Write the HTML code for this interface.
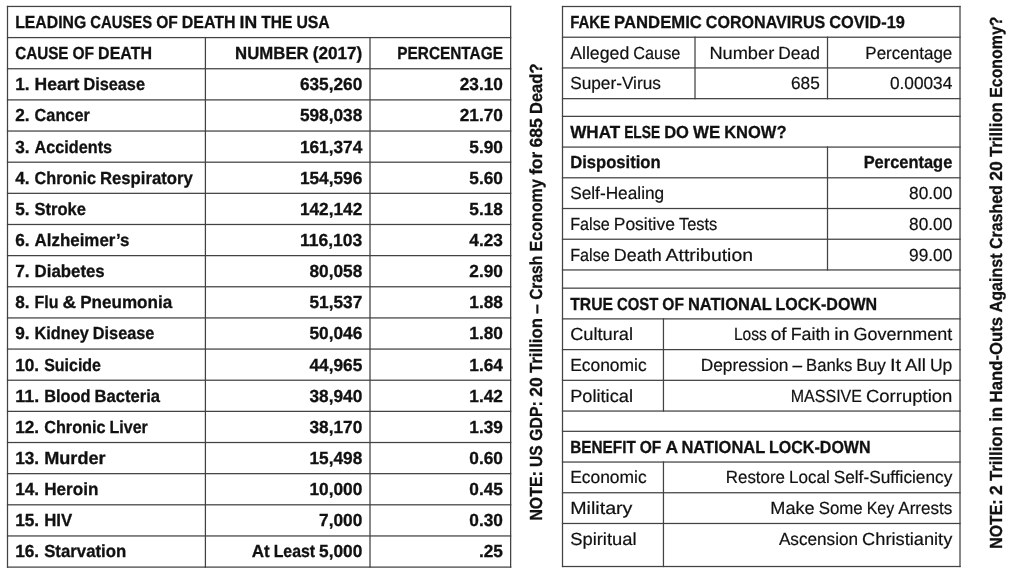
<!DOCTYPE html>
<html lang="en">
<head>
<meta charset="utf-8">
<title>Leading causes of death table</title>
<style>
html,body{margin:0;padding:0;background:#fff;}
body{width:1024px;height:576px;overflow:hidden;}
svg{display:block;}
text{font-family:"Liberation Sans",Arial,sans-serif;font-size:17.5px;fill:#111;stroke:#111;text-rendering:geometricPrecision;}
.b{font-weight:bold;stroke-width:0.3px;}
.r{font-weight:normal;stroke-width:0.2px;}
.lines rect{fill:#424242;}
</style>
</head>
<body>
<svg width="1024" height="576" viewBox="0 0 1024 576">
<rect width="1024" height="576" fill="#fff"/>
<g class="lines">
<rect x="6.88" y="5.83" width="504.40" height="1.25"/>
<rect x="6.88" y="36.97" width="504.40" height="1.25"/>
<rect x="6.88" y="68.12" width="504.40" height="1.25"/>
<rect x="6.88" y="99.27" width="504.40" height="1.25"/>
<rect x="6.88" y="130.41" width="504.40" height="1.25"/>
<rect x="6.88" y="161.56" width="504.40" height="1.25"/>
<rect x="6.88" y="192.71" width="504.40" height="1.25"/>
<rect x="6.88" y="223.86" width="504.40" height="1.25"/>
<rect x="6.88" y="255.00" width="504.40" height="1.25"/>
<rect x="6.88" y="286.15" width="504.40" height="1.25"/>
<rect x="6.88" y="317.30" width="504.40" height="1.25"/>
<rect x="6.88" y="348.44" width="504.40" height="1.25"/>
<rect x="6.88" y="379.59" width="504.40" height="1.25"/>
<rect x="6.88" y="410.74" width="504.40" height="1.25"/>
<rect x="6.88" y="441.89" width="504.40" height="1.25"/>
<rect x="6.88" y="473.03" width="504.40" height="1.25"/>
<rect x="6.88" y="504.18" width="504.40" height="1.25"/>
<rect x="6.88" y="535.33" width="504.40" height="1.25"/>
<rect x="6.88" y="566.48" width="504.40" height="1.25"/>
<rect x="6.88" y="5.83" width="1.25" height="561.90"/>
<rect x="510.02" y="5.83" width="1.25" height="561.90"/>
<rect x="204.78" y="36.97" width="1.25" height="530.75"/>
<rect x="369.38" y="36.97" width="1.25" height="530.75"/>
<rect x="561.88" y="5.88" width="398.75" height="1.25"/>
<rect x="561.88" y="36.59" width="398.75" height="1.25"/>
<rect x="561.88" y="67.31" width="398.75" height="1.25"/>
<rect x="561.88" y="98.03" width="398.75" height="1.25"/>
<rect x="561.88" y="115.73" width="398.75" height="1.25"/>
<rect x="561.88" y="146.45" width="398.75" height="1.25"/>
<rect x="561.88" y="177.17" width="398.75" height="1.25"/>
<rect x="561.88" y="207.89" width="398.75" height="1.25"/>
<rect x="561.88" y="238.61" width="398.75" height="1.25"/>
<rect x="561.88" y="269.33" width="398.75" height="1.25"/>
<rect x="561.88" y="287.53" width="398.75" height="1.25"/>
<rect x="561.88" y="318.25" width="398.75" height="1.25"/>
<rect x="561.88" y="348.98" width="398.75" height="1.25"/>
<rect x="561.88" y="379.70" width="398.75" height="1.25"/>
<rect x="561.88" y="410.42" width="398.75" height="1.25"/>
<rect x="561.88" y="430.69" width="398.75" height="1.25"/>
<rect x="561.88" y="461.41" width="398.75" height="1.25"/>
<rect x="561.88" y="492.13" width="398.75" height="1.25"/>
<rect x="561.88" y="522.85" width="398.75" height="1.25"/>
<rect x="561.88" y="565.88" width="398.75" height="1.25"/>
<rect x="561.88" y="5.88" width="1.25" height="561.25"/>
<rect x="959.38" y="5.88" width="1.25" height="561.25"/>
<rect x="694.38" y="36.59" width="1.25" height="62.69"/>
<rect x="826.88" y="36.59" width="1.25" height="62.69"/>
<rect x="826.88" y="146.45" width="1.25" height="124.13"/>
<rect x="662.83" y="318.25" width="1.25" height="93.41"/>
<rect x="662.83" y="461.41" width="1.25" height="105.72"/>
</g>
<g class="labels">
<text class="b" y="27.95"><tspan x="15.18" textLength="71.01" lengthAdjust="spacingAndGlyphs">LEADING</tspan> <tspan x="90.19" textLength="61.99" lengthAdjust="spacingAndGlyphs">CAUSES</tspan> <tspan x="156.18" textLength="21.60" lengthAdjust="spacingAndGlyphs">OF</tspan> <tspan x="181.78" textLength="53.81" lengthAdjust="spacingAndGlyphs">DEATH</tspan> <tspan x="239.59" textLength="17.60" lengthAdjust="spacingAndGlyphs">IN</tspan> <tspan x="261.19" textLength="31.20" lengthAdjust="spacingAndGlyphs">THE</tspan> <tspan x="296.39" textLength="33.41" lengthAdjust="spacingAndGlyphs">USA</tspan></text>
<text class="b" y="59.10"><tspan x="15.18" textLength="53.34" lengthAdjust="spacingAndGlyphs">CAUSE</tspan> <tspan x="72.52" textLength="21.60" lengthAdjust="spacingAndGlyphs">OF</tspan> <tspan x="98.12" textLength="53.81" lengthAdjust="spacingAndGlyphs">DEATH</tspan></text>
<text class="b" y="59.10"><tspan x="235.12" textLength="73.60" lengthAdjust="spacingAndGlyphs">NUMBER</tspan> <tspan x="312.72" textLength="49.60" lengthAdjust="spacingAndGlyphs">(2017)</tspan></text>
<text class="b" y="59.10"><tspan x="397.28" textLength="105.69" lengthAdjust="spacingAndGlyphs">PERCENTAGE</tspan></text>
<text class="b" y="90.24"><tspan x="15.18" textLength="14.40" lengthAdjust="spacingAndGlyphs">1.</tspan> <tspan x="34.58" textLength="44.80" lengthAdjust="spacingAndGlyphs">Heart</tspan> <tspan x="83.38" textLength="61.60" lengthAdjust="spacingAndGlyphs">Disease</tspan></text>
<text class="b" y="90.24"><tspan x="299.92" textLength="62.40" lengthAdjust="spacingAndGlyphs">635,260</tspan></text>
<text class="b" y="90.24"><tspan x="459.77" textLength="43.20" lengthAdjust="spacingAndGlyphs">23.10</tspan></text>
<text class="b" y="121.39"><tspan x="15.18" textLength="14.40" lengthAdjust="spacingAndGlyphs">2.</tspan> <tspan x="34.58" textLength="55.20" lengthAdjust="spacingAndGlyphs">Cancer</tspan></text>
<text class="b" y="121.39"><tspan x="299.92" textLength="62.40" lengthAdjust="spacingAndGlyphs">598,038</tspan></text>
<text class="b" y="121.39"><tspan x="459.77" textLength="43.20" lengthAdjust="spacingAndGlyphs">21.70</tspan></text>
<text class="b" y="152.54"><tspan x="15.18" textLength="14.40" lengthAdjust="spacingAndGlyphs">3.</tspan> <tspan x="34.58" textLength="77.46" lengthAdjust="spacingAndGlyphs">Accidents</tspan></text>
<text class="b" y="152.54"><tspan x="299.92" textLength="62.40" lengthAdjust="spacingAndGlyphs">161,374</tspan></text>
<text class="b" y="152.54"><tspan x="469.37" textLength="33.60" lengthAdjust="spacingAndGlyphs">5.90</tspan></text>
<text class="b" y="183.69"><tspan x="15.18" textLength="14.40" lengthAdjust="spacingAndGlyphs">4.</tspan> <tspan x="34.58" textLength="61.41" lengthAdjust="spacingAndGlyphs">Chronic</tspan> <tspan x="99.99" textLength="92.81" lengthAdjust="spacingAndGlyphs">Respiratory</tspan></text>
<text class="b" y="183.69"><tspan x="299.92" textLength="62.40" lengthAdjust="spacingAndGlyphs">154,596</tspan></text>
<text class="b" y="183.69"><tspan x="469.37" textLength="33.60" lengthAdjust="spacingAndGlyphs">5.60</tspan></text>
<text class="b" y="214.83"><tspan x="15.18" textLength="14.40" lengthAdjust="spacingAndGlyphs">5.</tspan> <tspan x="34.58" textLength="51.39" lengthAdjust="spacingAndGlyphs">Stroke</tspan></text>
<text class="b" y="214.83"><tspan x="299.92" textLength="62.40" lengthAdjust="spacingAndGlyphs">142,142</tspan></text>
<text class="b" y="214.83"><tspan x="469.37" textLength="33.60" lengthAdjust="spacingAndGlyphs">5.18</tspan></text>
<text class="b" y="245.98"><tspan x="15.18" textLength="14.40" lengthAdjust="spacingAndGlyphs">6.</tspan> <tspan x="34.58" textLength="94.90" lengthAdjust="spacingAndGlyphs">Alzheimer’s</tspan></text>
<text class="b" y="245.98"><tspan x="299.92" textLength="62.40" lengthAdjust="spacingAndGlyphs">116,103</tspan></text>
<text class="b" y="245.98"><tspan x="469.37" textLength="33.60" lengthAdjust="spacingAndGlyphs">4.23</tspan></text>
<text class="b" y="277.13"><tspan x="15.18" textLength="14.40" lengthAdjust="spacingAndGlyphs">7.</tspan> <tspan x="34.58" textLength="70.11" lengthAdjust="spacingAndGlyphs">Diabetes</tspan></text>
<text class="b" y="277.13"><tspan x="309.52" textLength="52.80" lengthAdjust="spacingAndGlyphs">80,058</tspan></text>
<text class="b" y="277.13"><tspan x="469.37" textLength="33.60" lengthAdjust="spacingAndGlyphs">2.90</tspan></text>
<text class="b" y="308.27"><tspan x="15.18" textLength="14.40" lengthAdjust="spacingAndGlyphs">8.</tspan> <tspan x="34.58" textLength="24.00" lengthAdjust="spacingAndGlyphs">Flu</tspan> <tspan x="62.58" textLength="13.60" lengthAdjust="spacingAndGlyphs">&amp;</tspan> <tspan x="80.18" textLength="92.00" lengthAdjust="spacingAndGlyphs">Pneumonia</tspan></text>
<text class="b" y="308.27"><tspan x="309.52" textLength="52.80" lengthAdjust="spacingAndGlyphs">51,537</tspan></text>
<text class="b" y="308.27"><tspan x="469.37" textLength="33.60" lengthAdjust="spacingAndGlyphs">1.88</tspan></text>
<text class="b" y="339.42"><tspan x="15.18" textLength="14.40" lengthAdjust="spacingAndGlyphs">9.</tspan> <tspan x="34.58" textLength="54.26" lengthAdjust="spacingAndGlyphs">Kidney</tspan> <tspan x="92.84" textLength="61.60" lengthAdjust="spacingAndGlyphs">Disease</tspan></text>
<text class="b" y="339.42"><tspan x="309.52" textLength="52.80" lengthAdjust="spacingAndGlyphs">50,046</tspan></text>
<text class="b" y="339.42"><tspan x="469.37" textLength="33.60" lengthAdjust="spacingAndGlyphs">1.80</tspan></text>
<text class="b" y="370.57"><tspan x="15.18" textLength="24.00" lengthAdjust="spacingAndGlyphs">10.</tspan> <tspan x="44.18" textLength="56.80" lengthAdjust="spacingAndGlyphs">Suicide</tspan></text>
<text class="b" y="370.57"><tspan x="309.52" textLength="52.80" lengthAdjust="spacingAndGlyphs">44,965</tspan></text>
<text class="b" y="370.57"><tspan x="469.37" textLength="33.60" lengthAdjust="spacingAndGlyphs">1.64</tspan></text>
<text class="b" y="401.72"><tspan x="15.18" textLength="24.00" lengthAdjust="spacingAndGlyphs">11.</tspan> <tspan x="44.18" textLength="46.40" lengthAdjust="spacingAndGlyphs">Blood</tspan> <tspan x="94.58" textLength="65.41" lengthAdjust="spacingAndGlyphs">Bacteria</tspan></text>
<text class="b" y="401.72"><tspan x="309.52" textLength="52.80" lengthAdjust="spacingAndGlyphs">38,940</tspan></text>
<text class="b" y="401.72"><tspan x="469.37" textLength="33.60" lengthAdjust="spacingAndGlyphs">1.42</tspan></text>
<text class="b" y="432.86"><tspan x="15.18" textLength="24.00" lengthAdjust="spacingAndGlyphs">12.</tspan> <tspan x="44.18" textLength="61.41" lengthAdjust="spacingAndGlyphs">Chronic</tspan> <tspan x="109.59" textLength="38.26" lengthAdjust="spacingAndGlyphs">Liver</tspan></text>
<text class="b" y="432.86"><tspan x="309.52" textLength="52.80" lengthAdjust="spacingAndGlyphs">38,170</tspan></text>
<text class="b" y="432.86"><tspan x="469.37" textLength="33.60" lengthAdjust="spacingAndGlyphs">1.39</tspan></text>
<text class="b" y="464.01"><tspan x="15.18" textLength="24.00" lengthAdjust="spacingAndGlyphs">13.</tspan> <tspan x="44.18" textLength="61.41" lengthAdjust="spacingAndGlyphs">Murder</tspan></text>
<text class="b" y="464.01"><tspan x="309.52" textLength="52.80" lengthAdjust="spacingAndGlyphs">15,498</tspan></text>
<text class="b" y="464.01"><tspan x="469.37" textLength="33.60" lengthAdjust="spacingAndGlyphs">0.60</tspan></text>
<text class="b" y="495.16"><tspan x="15.18" textLength="24.00" lengthAdjust="spacingAndGlyphs">14.</tspan> <tspan x="44.18" textLength="54.21" lengthAdjust="spacingAndGlyphs">Heroin</tspan></text>
<text class="b" y="495.16"><tspan x="309.52" textLength="52.80" lengthAdjust="spacingAndGlyphs">10,000</tspan></text>
<text class="b" y="495.16"><tspan x="469.37" textLength="33.60" lengthAdjust="spacingAndGlyphs">0.45</tspan></text>
<text class="b" y="526.31"><tspan x="15.18" textLength="24.00" lengthAdjust="spacingAndGlyphs">15.</tspan> <tspan x="44.18" textLength="28.00" lengthAdjust="spacingAndGlyphs">HIV</tspan></text>
<text class="b" y="526.31"><tspan x="319.12" textLength="43.20" lengthAdjust="spacingAndGlyphs">7,000</tspan></text>
<text class="b" y="526.31"><tspan x="469.37" textLength="33.60" lengthAdjust="spacingAndGlyphs">0.30</tspan></text>
<text class="b" y="557.45"><tspan x="15.18" textLength="24.00" lengthAdjust="spacingAndGlyphs">16.</tspan> <tspan x="44.18" textLength="82.02" lengthAdjust="spacingAndGlyphs">Starvation</tspan></text>
<text class="b" y="557.45"><tspan x="251.77" textLength="17.93" lengthAdjust="spacingAndGlyphs">At</tspan> <tspan x="273.69" textLength="41.43" lengthAdjust="spacingAndGlyphs">Least</tspan> <tspan x="319.12" textLength="43.20" lengthAdjust="spacingAndGlyphs">5,000</tspan></text>
<text class="b" y="557.45"><tspan x="478.97" textLength="24.00" lengthAdjust="spacingAndGlyphs">.25</tspan></text>
<text class="b" y="27.85"><tspan x="570.18" textLength="39.93" lengthAdjust="spacingAndGlyphs">FAKE</tspan> <tspan x="614.11" textLength="87.76" lengthAdjust="spacingAndGlyphs">PANDEMIC</tspan> <tspan x="705.87" textLength="119.39" lengthAdjust="spacingAndGlyphs">CORONAVIRUS</tspan> <tspan x="829.26" textLength="75.62" lengthAdjust="spacingAndGlyphs">COVID-19</tspan></text>
<text class="r" y="58.57"><tspan x="570.18" textLength="59.07" lengthAdjust="spacingAndGlyphs">Alleged</tspan> <tspan x="633.25" textLength="47.20" lengthAdjust="spacingAndGlyphs">Cause</tspan></text>
<text class="r" y="58.57"><tspan x="709.42" textLength="64.80" lengthAdjust="spacingAndGlyphs">Number</tspan> <tspan x="778.22" textLength="41.60" lengthAdjust="spacingAndGlyphs">Dead</tspan></text>
<text class="r" y="58.57"><tspan x="865.31" textLength="87.01" lengthAdjust="spacingAndGlyphs">Percentage</tspan></text>
<text class="r" y="89.29"><tspan x="570.18" textLength="90.75" lengthAdjust="spacingAndGlyphs">Super-Virus</tspan></text>
<text class="r" y="89.29"><tspan x="791.02" textLength="28.80" lengthAdjust="spacingAndGlyphs">685</tspan></text>
<text class="r" y="89.29"><tspan x="889.92" textLength="62.40" lengthAdjust="spacingAndGlyphs">0.00034</tspan></text>
<text class="b" y="137.71"><tspan x="570.18" textLength="50.00" lengthAdjust="spacingAndGlyphs">WHAT</tspan> <tspan x="624.18" textLength="36.00" lengthAdjust="spacingAndGlyphs">ELSE</tspan> <tspan x="664.18" textLength="24.80" lengthAdjust="spacingAndGlyphs">DO</tspan> <tspan x="692.98" textLength="27.20" lengthAdjust="spacingAndGlyphs">WE</tspan> <tspan x="724.18" textLength="62.39" lengthAdjust="spacingAndGlyphs">KNOW?</tspan></text>
<text class="b" y="168.43"><tspan x="570.18" textLength="90.40" lengthAdjust="spacingAndGlyphs">Disposition</tspan></text>
<text class="b" y="168.43"><tspan x="863.64" textLength="88.68" lengthAdjust="spacingAndGlyphs">Percentage</tspan></text>
<text class="r" y="199.15"><tspan x="570.18" textLength="93.99" lengthAdjust="spacingAndGlyphs">Self-Healing</tspan></text>
<text class="r" y="199.15"><tspan x="909.12" textLength="43.20" lengthAdjust="spacingAndGlyphs">80.00</tspan></text>
<text class="r" y="229.87"><tspan x="570.18" textLength="39.59" lengthAdjust="spacingAndGlyphs">False</tspan> <tspan x="613.77" textLength="61.14" lengthAdjust="spacingAndGlyphs">Positive</tspan> <tspan x="678.91" textLength="38.46" lengthAdjust="spacingAndGlyphs">Tests</tspan></text>
<text class="r" y="229.87"><tspan x="909.12" textLength="43.20" lengthAdjust="spacingAndGlyphs">80.00</tspan></text>
<text class="r" y="260.59"><tspan x="570.18" textLength="39.59" lengthAdjust="spacingAndGlyphs">False</tspan> <tspan x="613.77" textLength="47.86" lengthAdjust="spacingAndGlyphs">Death</tspan> <tspan x="665.62" textLength="87.39" lengthAdjust="spacingAndGlyphs">Attribution</tspan></text>
<text class="r" y="260.59"><tspan x="909.12" textLength="43.20" lengthAdjust="spacingAndGlyphs">99.00</tspan></text>
<text class="b" y="309.51"><tspan x="570.18" textLength="42.84" lengthAdjust="spacingAndGlyphs">TRUE</tspan> <tspan x="617.02" textLength="41.34" lengthAdjust="spacingAndGlyphs">COST</tspan> <tspan x="662.36" textLength="21.60" lengthAdjust="spacingAndGlyphs">OF</tspan> <tspan x="687.96" textLength="83.60" lengthAdjust="spacingAndGlyphs">NATIONAL</tspan> <tspan x="775.56" textLength="101.64" lengthAdjust="spacingAndGlyphs">LOCK-DOWN</tspan></text>
<text class="r" y="340.23"><tspan x="570.18" textLength="62.89" lengthAdjust="spacingAndGlyphs">Cultural</tspan></text>
<text class="r" y="340.23"><tspan x="733.89" textLength="32.80" lengthAdjust="spacingAndGlyphs">Loss</tspan> <tspan x="770.69" textLength="16.00" lengthAdjust="spacingAndGlyphs">of</tspan> <tspan x="790.69" textLength="39.59" lengthAdjust="spacingAndGlyphs">Faith</tspan> <tspan x="834.28" textLength="15.20" lengthAdjust="spacingAndGlyphs">in</tspan> <tspan x="853.48" textLength="98.84" lengthAdjust="spacingAndGlyphs">Government</tspan></text>
<text class="r" y="370.95"><tspan x="570.18" textLength="76.46" lengthAdjust="spacingAndGlyphs">Economic</tspan></text>
<text class="r" y="370.95"><tspan x="700.67" textLength="87.80" lengthAdjust="spacingAndGlyphs">Depression</tspan> <tspan x="792.46" textLength="9.60" lengthAdjust="spacingAndGlyphs">–</tspan> <tspan x="806.06" textLength="46.26" lengthAdjust="spacingAndGlyphs">Banks</tspan> <tspan x="856.32" textLength="29.60" lengthAdjust="spacingAndGlyphs">Buy</tspan> <tspan x="889.92" textLength="11.20" lengthAdjust="spacingAndGlyphs">It</tspan> <tspan x="905.12" textLength="20.80" lengthAdjust="spacingAndGlyphs">All</tspan> <tspan x="929.92" textLength="22.40" lengthAdjust="spacingAndGlyphs">Up</tspan></text>
<text class="r" y="401.67"><tspan x="570.18" textLength="62.77" lengthAdjust="spacingAndGlyphs">Political</tspan></text>
<text class="r" y="401.67"><tspan x="790.79" textLength="71.20" lengthAdjust="spacingAndGlyphs">MASSIVE</tspan> <tspan x="865.99" textLength="86.33" lengthAdjust="spacingAndGlyphs">Corruption</tspan></text>
<text class="b" y="452.66"><tspan x="570.18" textLength="65.60" lengthAdjust="spacingAndGlyphs">BENEFIT</tspan> <tspan x="639.78" textLength="21.60" lengthAdjust="spacingAndGlyphs">OF</tspan> <tspan x="665.38" textLength="12.00" lengthAdjust="spacingAndGlyphs">A</tspan> <tspan x="681.38" textLength="83.60" lengthAdjust="spacingAndGlyphs">NATIONAL</tspan> <tspan x="768.98" textLength="101.64" lengthAdjust="spacingAndGlyphs">LOCK-DOWN</tspan></text>
<text class="r" y="483.38"><tspan x="570.18" textLength="76.46" lengthAdjust="spacingAndGlyphs">Economic</tspan></text>
<text class="r" y="483.38"><tspan x="725.81" textLength="59.20" lengthAdjust="spacingAndGlyphs">Restore</tspan> <tspan x="789.01" textLength="40.67" lengthAdjust="spacingAndGlyphs">Local</tspan> <tspan x="833.68" textLength="118.64" lengthAdjust="spacingAndGlyphs">Self-Sufficiency</tspan></text>
<text class="r" y="514.10"><tspan x="570.18" textLength="62.29" lengthAdjust="spacingAndGlyphs">Military</tspan></text>
<text class="r" y="514.10"><tspan x="770.36" textLength="44.31" lengthAdjust="spacingAndGlyphs">Make</tspan> <tspan x="818.67" textLength="44.00" lengthAdjust="spacingAndGlyphs">Some</tspan> <tspan x="866.67" textLength="27.63" lengthAdjust="spacingAndGlyphs">Key</tspan> <tspan x="898.30" textLength="54.02" lengthAdjust="spacingAndGlyphs">Arrests</tspan></text>
<text class="r" y="544.82"><tspan x="570.18" textLength="66.40" lengthAdjust="spacingAndGlyphs">Spiritual</tspan></text>
<text class="r" y="544.82"><tspan x="778.89" textLength="79.20" lengthAdjust="spacingAndGlyphs">Ascension</tspan> <tspan x="862.09" textLength="90.23" lengthAdjust="spacingAndGlyphs">Christianity</tspan></text>
<text class="b" transform="translate(542.40 520.60) rotate(-90)" y="0"><tspan x="0.00" textLength="49.38" lengthAdjust="spacingAndGlyphs">NOTE:</tspan> <tspan x="53.72" textLength="21.61" lengthAdjust="spacingAndGlyphs">US</tspan> <tspan x="79.67" textLength="39.85" lengthAdjust="spacingAndGlyphs">GDP:</tspan> <tspan x="123.86" textLength="19.46" lengthAdjust="spacingAndGlyphs">20</tspan> <tspan x="147.67" textLength="54.83" lengthAdjust="spacingAndGlyphs">Trillion</tspan> <tspan x="206.84" textLength="9.56" lengthAdjust="spacingAndGlyphs">–</tspan> <tspan x="220.75" textLength="44.01" lengthAdjust="spacingAndGlyphs">Crash</tspan> <tspan x="269.09" textLength="72.38" lengthAdjust="spacingAndGlyphs">Economy</tspan> <tspan x="345.82" textLength="22.93" lengthAdjust="spacingAndGlyphs">for</tspan> <tspan x="373.09" textLength="29.19" lengthAdjust="spacingAndGlyphs">685</tspan> <tspan x="406.62" textLength="50.45" lengthAdjust="spacingAndGlyphs">Dead?</tspan></text>
<text class="b" transform="translate(1002.40 548.80) rotate(-90)" y="0"><tspan x="0.00" textLength="49.38" lengthAdjust="spacingAndGlyphs">NOTE:</tspan> <tspan x="53.72" textLength="9.73" lengthAdjust="spacingAndGlyphs">2</tspan> <tspan x="67.79" textLength="54.83" lengthAdjust="spacingAndGlyphs">Trillion</tspan> <tspan x="126.97" textLength="15.02" lengthAdjust="spacingAndGlyphs">in</tspan> <tspan x="146.33" textLength="85.68" lengthAdjust="spacingAndGlyphs">Hand-Outs</tspan> <tspan x="236.35" textLength="59.01" lengthAdjust="spacingAndGlyphs">Against</tspan> <tspan x="299.69" textLength="63.98" lengthAdjust="spacingAndGlyphs">Crashed</tspan> <tspan x="368.01" textLength="19.46" lengthAdjust="spacingAndGlyphs">20</tspan> <tspan x="391.81" textLength="54.83" lengthAdjust="spacingAndGlyphs">Trillion</tspan> <tspan x="450.99" textLength="81.28" lengthAdjust="spacingAndGlyphs">Economy?</tspan></text>
</g>
</svg>
</body>
</html>
